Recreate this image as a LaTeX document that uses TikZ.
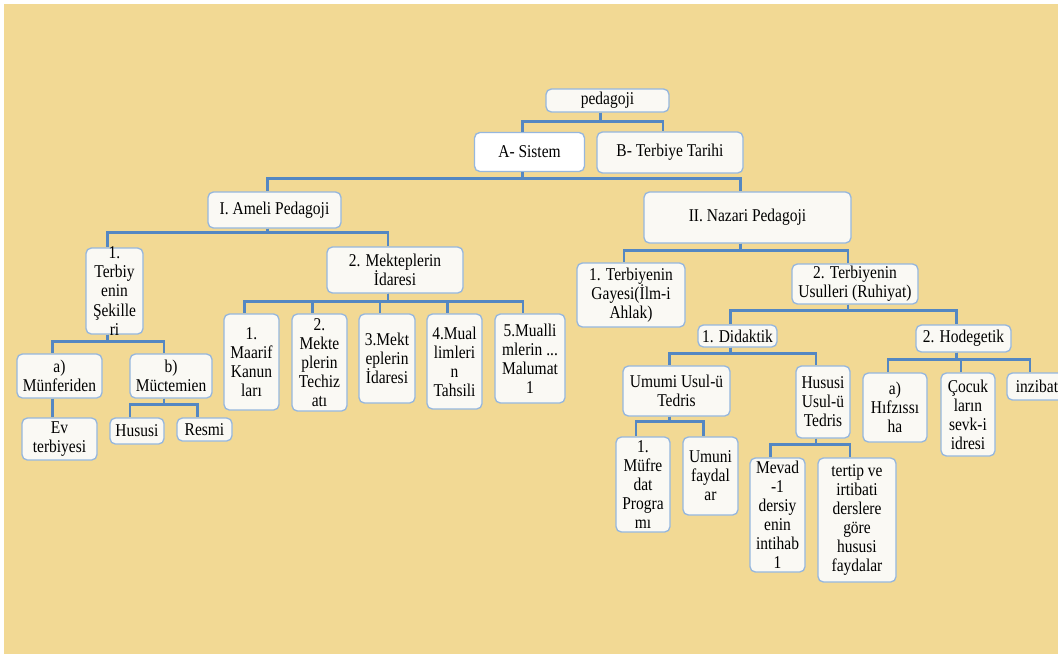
\documentclass[tikz,border=0pt]{standalone}
\usepackage{fontspec}
\setmainfont{Liberation Serif}[FakeStretch=0.86]
\usepackage{tikz}
\usetikzlibrary{calc}
\definecolor{bgyellow}{RGB}{242,217,148}
\definecolor{linkblue}{RGB}{84,135,194}
\definecolor{boxline}{RGB}{150,183,222}
\definecolor{boxfill}{RGB}{250,249,244}

\begin{document}
\begin{tikzpicture}[x=0.75pt,y=-0.75pt,
    box/.style={draw=boxline,fill=boxfill,line width=1pt,rounded corners=4pt,
        align=center,inner xsep=1pt,inner ysep=1pt,
        font=\fontsize{13.5}{14.3}\selectfont},
    sz/.style 2 args={minimum width=#1*0.75pt,minimum height=#2*0.75pt},
    link/.style={linkblue,line width=2pt}]
    \useasboundingbox (0,0) rectangle (1058,654);
    \clip (0,0) rectangle (1058,654);
    \fill[white] (0,0) rectangle (1058,654);
    \fill[bgyellow] (4,4) rectangle (1058,654);

    \node[box,sz={123}{23}] (ped) at (607.5,100.5) {pedagoji};
    \node[box,sz={110}{39},fill=white] (sistem) at (529.5,152) {A- Sistem};
    \node[box,sz={146}{41}] (tarih) at (670,152.5) {B- Terbiye Tarihi};
    \node[box,sz={133}{36}] (ameli) at (274.5,210) {I. Ameli Pedagoji};
    \node[box,sz={207}{51}] (nazari) at (747.5,217.5) {II. Nazari Pedagoji};

    \node[box,sz={57}{86},inner ysep=-3pt] (sekil) at (114.5,291)
        {1.\\Terbiy\\enin\\Şekille\\ri};
    \node[box,sz={136}{46}] (idare) at (395,270) {2. Mekteplerin\\İdaresi};
    \node[box,sz={85}{44}] (munf) at (59.5,376) {a)\\Münferiden};
    \node[box,sz={82}{44}] (muct) at (171,376) {b)\\Müctemien};
    \node[box,sz={75}{42}] (ev) at (59.5,439) {Ev\\terbiyesi};
    \node[box,sz={54}{26}] (husus) at (137,431) {Hususi};
    \node[box,sz={55}{23}] (resmi) at (204.5,429.5) {Resmi};

    \foreach \n/\x/\y/\w/\h/\t in {
        mk1/251.5/362/55/96/{1.\\Maarif\\Kanun\\ları},
        mk2/319.5/362.5/55/97/{2.\\Mekte\\plerin\\Techiz\\atı},
        mk3/387/358.5/56/89/{3.Mekt\\eplerin\\İdaresi},
        mk4/454.5/361.5/55/95/{4.Mual\\limleri\\n\\Tahsili},
        mk5/530/358.5/70/89/{5.Mualli\\mlerin ...\\Malumat\\1}}
        \node[box,sz={\w}{\h}] (\n) at (\x,\y) {\t};

    \node[box,sz={108}{64}] (gayesi) at (631,295)
        {1. Terbiyenin\\Gayesi(İlm-i\\Ahlak)};
    \node[box,sz={126}{40}] (usul) at (855,284)
        {2. Terbiyenin\\Usulleri (Ruhiyat)};
    \node[box,sz={79}{22}] (didak) at (737.5,336) {1. Didaktik};
    \node[box,sz={95}{27}] (hodeg) at (963.5,338.5) {2. Hodegetik};
    \node[box,sz={107}{50}] (umumi) at (676.5,391) {Umumi Usul-ü\\Tedris};
    \node[box,sz={54}{72}] (hususi) at (823,402) {Hususi\\Usul-ü\\Tedris};
    \node[box,sz={54}{95}] (mufr) at (643,484.5) {1.\\Müfre\\dat\\Progra\\mı};
    \node[box,sz={55}{78}] (umuni) at (710.5,476) {Umuni\\faydal\\ar};
    \node[box,sz={55}{114}] (mevad) at (777.5,515)
        {Mevad\\-1\\dersiy\\enin\\intihab\\1};
    \node[box,sz={78}{124}] (tertip) at (857,520)
        {tertip ve\\irtibati\\derslere\\göre\\hususi\\faydalar};
    \node[box,sz={64}{69}] (hifz) at (895,407.5) {a)\\Hıfzıssı\\ha};
    \node[box,sz={54}{83}] (cocuk) at (968,414.5) {Çocuk\\ların\\sevk-i\\idresi};
    \node[box,sz={60}{27}] (inzibat) at (1037,386.5) {inzibat};

    \foreach \a/\b/\d in {ped/sistem/9, ped/tarih/9, sistem/ameli/6, sistem/nazari/6,
        ameli/sekil/4, ameli/idare/4, sekil/munf/7, sekil/muct/7, munf/ev/10,
        muct/husus/6, muct/resmi/6, idare/mk1/8, idare/mk2/8, idare/mk3/8,
        idare/mk4/8, idare/mk5/8, nazari/gayesi/7, nazari/usul/7,
        usul/didak/6, usul/hodeg/6, didak/umumi/6, didak/hususi/6,
        hodeg/hifz/7, hodeg/cocuk/7, hodeg/inzibat/7, umumi/mufr/5,
        umumi/umuni/5, hususi/mevad/6, hususi/tertip/6}
        \draw[link] ([xshift=-5.25pt]\a.south) -- ++(0,\d) -| ([xshift=-5.25pt]\b.north);
\end{tikzpicture}
\end{document}
